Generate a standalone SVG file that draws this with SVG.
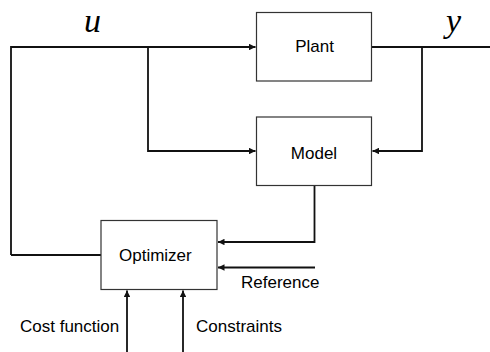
<svg xmlns="http://www.w3.org/2000/svg" width="490" height="352" viewBox="0 0 490 352">
<style>
.box{fill:#fff;stroke:#333;stroke-width:1.2}
.lbl{font-family:"Liberation Sans",Arial,sans-serif;font-size:17px;fill:#000}
.var{font-family:"Liberation Serif","Times New Roman",serif;font-style:italic;font-size:34px;fill:#000}
.ln{fill:none;stroke:#111;stroke-width:1.8}
</style>
<defs>
<marker id="ah" viewBox="0 0 10 10" refX="10" refY="5" markerWidth="4" markerHeight="3.6" orient="auto" markerUnits="strokeWidth">
<path d="M0,0 L10,5 L0,10 z" fill="#111"/>
</marker>
</defs>
<rect width="490" height="352" fill="#fff"/>
<g id="connectors">
<path class="ln" d="M11,255 L11,47 L255.5,47" marker-end="url(#ah)"/>
<path class="ln" d="M148,47 L148,151 L255.5,151" marker-end="url(#ah)"/>
<path class="ln" d="M365,47 L490,47"/>
<path class="ln" d="M422,47 L422,151 L372.5,151" marker-end="url(#ah)"/>
<path class="ln" d="M11,255 L101,255"/>
<path class="ln" d="M314.5,185 L314.5,242 L218,242" marker-end="url(#ah)"/>
<path class="ln" d="M315,267.5 L218,267.5" marker-end="url(#ah)"/>
<path class="ln" d="M127,352 L127,290.5" marker-end="url(#ah)"/>
<path class="ln" d="M183,352 L183,290.5" marker-end="url(#ah)"/>
</g>
<g id="plant">
<rect class="box" x="256.5" y="12.5" width="115" height="68.5"/>
<text class="lbl" x="314.5" y="52.3" text-anchor="middle">Plant</text>
</g>
<g id="model">
<rect class="box" x="256.5" y="117" width="115" height="68.5"/>
<text class="lbl" x="314" y="158.7" text-anchor="middle">Model</text>
</g>
<g id="optimizer">
<rect class="box" x="101" y="220.5" width="116" height="69"/>
<text class="lbl" x="119" y="261">Optimizer</text>
</g>
<g id="labels">
<text class="var" x="84" y="32.3">u</text>
<text class="var" x="446" y="32">y</text>
<text class="lbl" x="241" y="288.3">Reference</text>
<text class="lbl" x="20" y="332.3">Cost function</text>
<text class="lbl" x="196" y="332.3">Constraints</text>
</g>
</svg>
